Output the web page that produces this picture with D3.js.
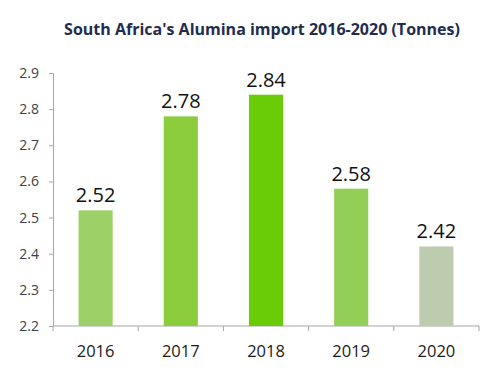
<!DOCTYPE html>
<html>
<head>
<meta charset="utf-8">
<script src="https://cdn.jsdelivr.net/npm/d3@7"></script>
<style>
  body { margin: 0; background: #fff; }
  text { font-family: "Open Sans", "Noto Sans", sans-serif; }
</style>
</head>
<body>
<div id="chart"></div>
<script>
var years = ["2016", "2017", "2018", "2019", "2020"];
var values = [2.52, 2.78, 2.84, 2.58, 2.42];
var barColors = ["#9dd167", "#8bcc3d", "#69cc07", "#92cf57", "#bdcbae"];
var yTicks = [2.2, 2.3, 2.4, 2.5, 2.6, 2.7, 2.8, 2.9];

var width = 500, height = 375;
var margin = {top: 73, right: 21, bottom: 49, left: 53};

var svg = d3.select("#chart")
    .append("svg")
    .attr("width", width)
    .attr("height", height);

svg.append("text")
    .attr("x", 262)
    .attr("y", 35)
    .attr("text-anchor", "middle")
    .attr("fill", "#1f2d4e")
    .style("font-size", "16px")
    .style("font-weight", "bold")
    .text("South Africa's Alumina import 2016-2020 (Tonnes)");

var g = svg.append("g")
    .attr("transform", "translate(" + margin.left + "," + margin.top + ")");

var w = width - margin.left - margin.right,
    h = height - margin.top - margin.bottom;

var x = d3.scaleBand().domain(years).range([0, w]).paddingInner(0.6).paddingOuter(0.3);
var y = d3.scaleLinear().domain([2.2, 2.9]).range([h, 0]);

// y axis
var yAxis = g.append("g")
    .call(d3.axisLeft(y).tickValues(yTicks).tickFormat(d3.format(".1f")).tickSize(4).tickPadding(10));
yAxis.select(".domain").attr("stroke", "#a6a6a6");
yAxis.selectAll(".tick line").attr("stroke", "#a6a6a6");
yAxis.selectAll(".tick text").attr("fill", "#404040").style("font-size", "14px");

// x axis with ticks at category boundaries
var xg = g.append("g").attr("transform", "translate(0," + h + ")");
xg.append("line").attr("x1", 0).attr("x2", w).attr("stroke", "#a6a6a6");
var step = x.step();
var bounds = d3.range(years.length + 1).map(function(i) { return x(years[0]) - x.step() * x.paddingOuter() + i * step; });
xg.selectAll(".bt").data(bounds).enter().append("line")
    .attr("x1", function(d) { return d; })
    .attr("x2", function(d) { return d; })
    .attr("y1", 0).attr("y2", 5)
    .attr("stroke", "#a6a6a6");
xg.selectAll(".yl").data(years).enter().append("text")
    .attr("x", function(d) { return x(d) + x.bandwidth() / 2; })
    .attr("y", 31)
    .attr("text-anchor", "middle")
    .attr("fill", "#1a1a1a")
    .style("font-size", "16.5px")
    .text(function(d) { return d; });

// bars
g.selectAll(".bar").data(values).enter().append("rect")
    .attr("x", function(d, i) { return x(years[i]); })
    .attr("y", function(d) { return y(d); })
    .attr("width", x.bandwidth())
    .attr("height", function(d) { return h - y(d); })
    .attr("fill", function(d, i) { return barColors[i]; });

// value labels
g.selectAll(".lbl").data(values).enter().append("text")
    .attr("x", function(d, i) { return x(years[i]) + x.bandwidth() / 2; })
    .attr("y", function(d) { return y(d) - 8; })
    .attr("text-anchor", "middle")
    .attr("fill", "#111")
    .style("font-size", "20px")
    .text(function(d) { return d3.format(".2f")(d); });
</script>
</body>
</html>
